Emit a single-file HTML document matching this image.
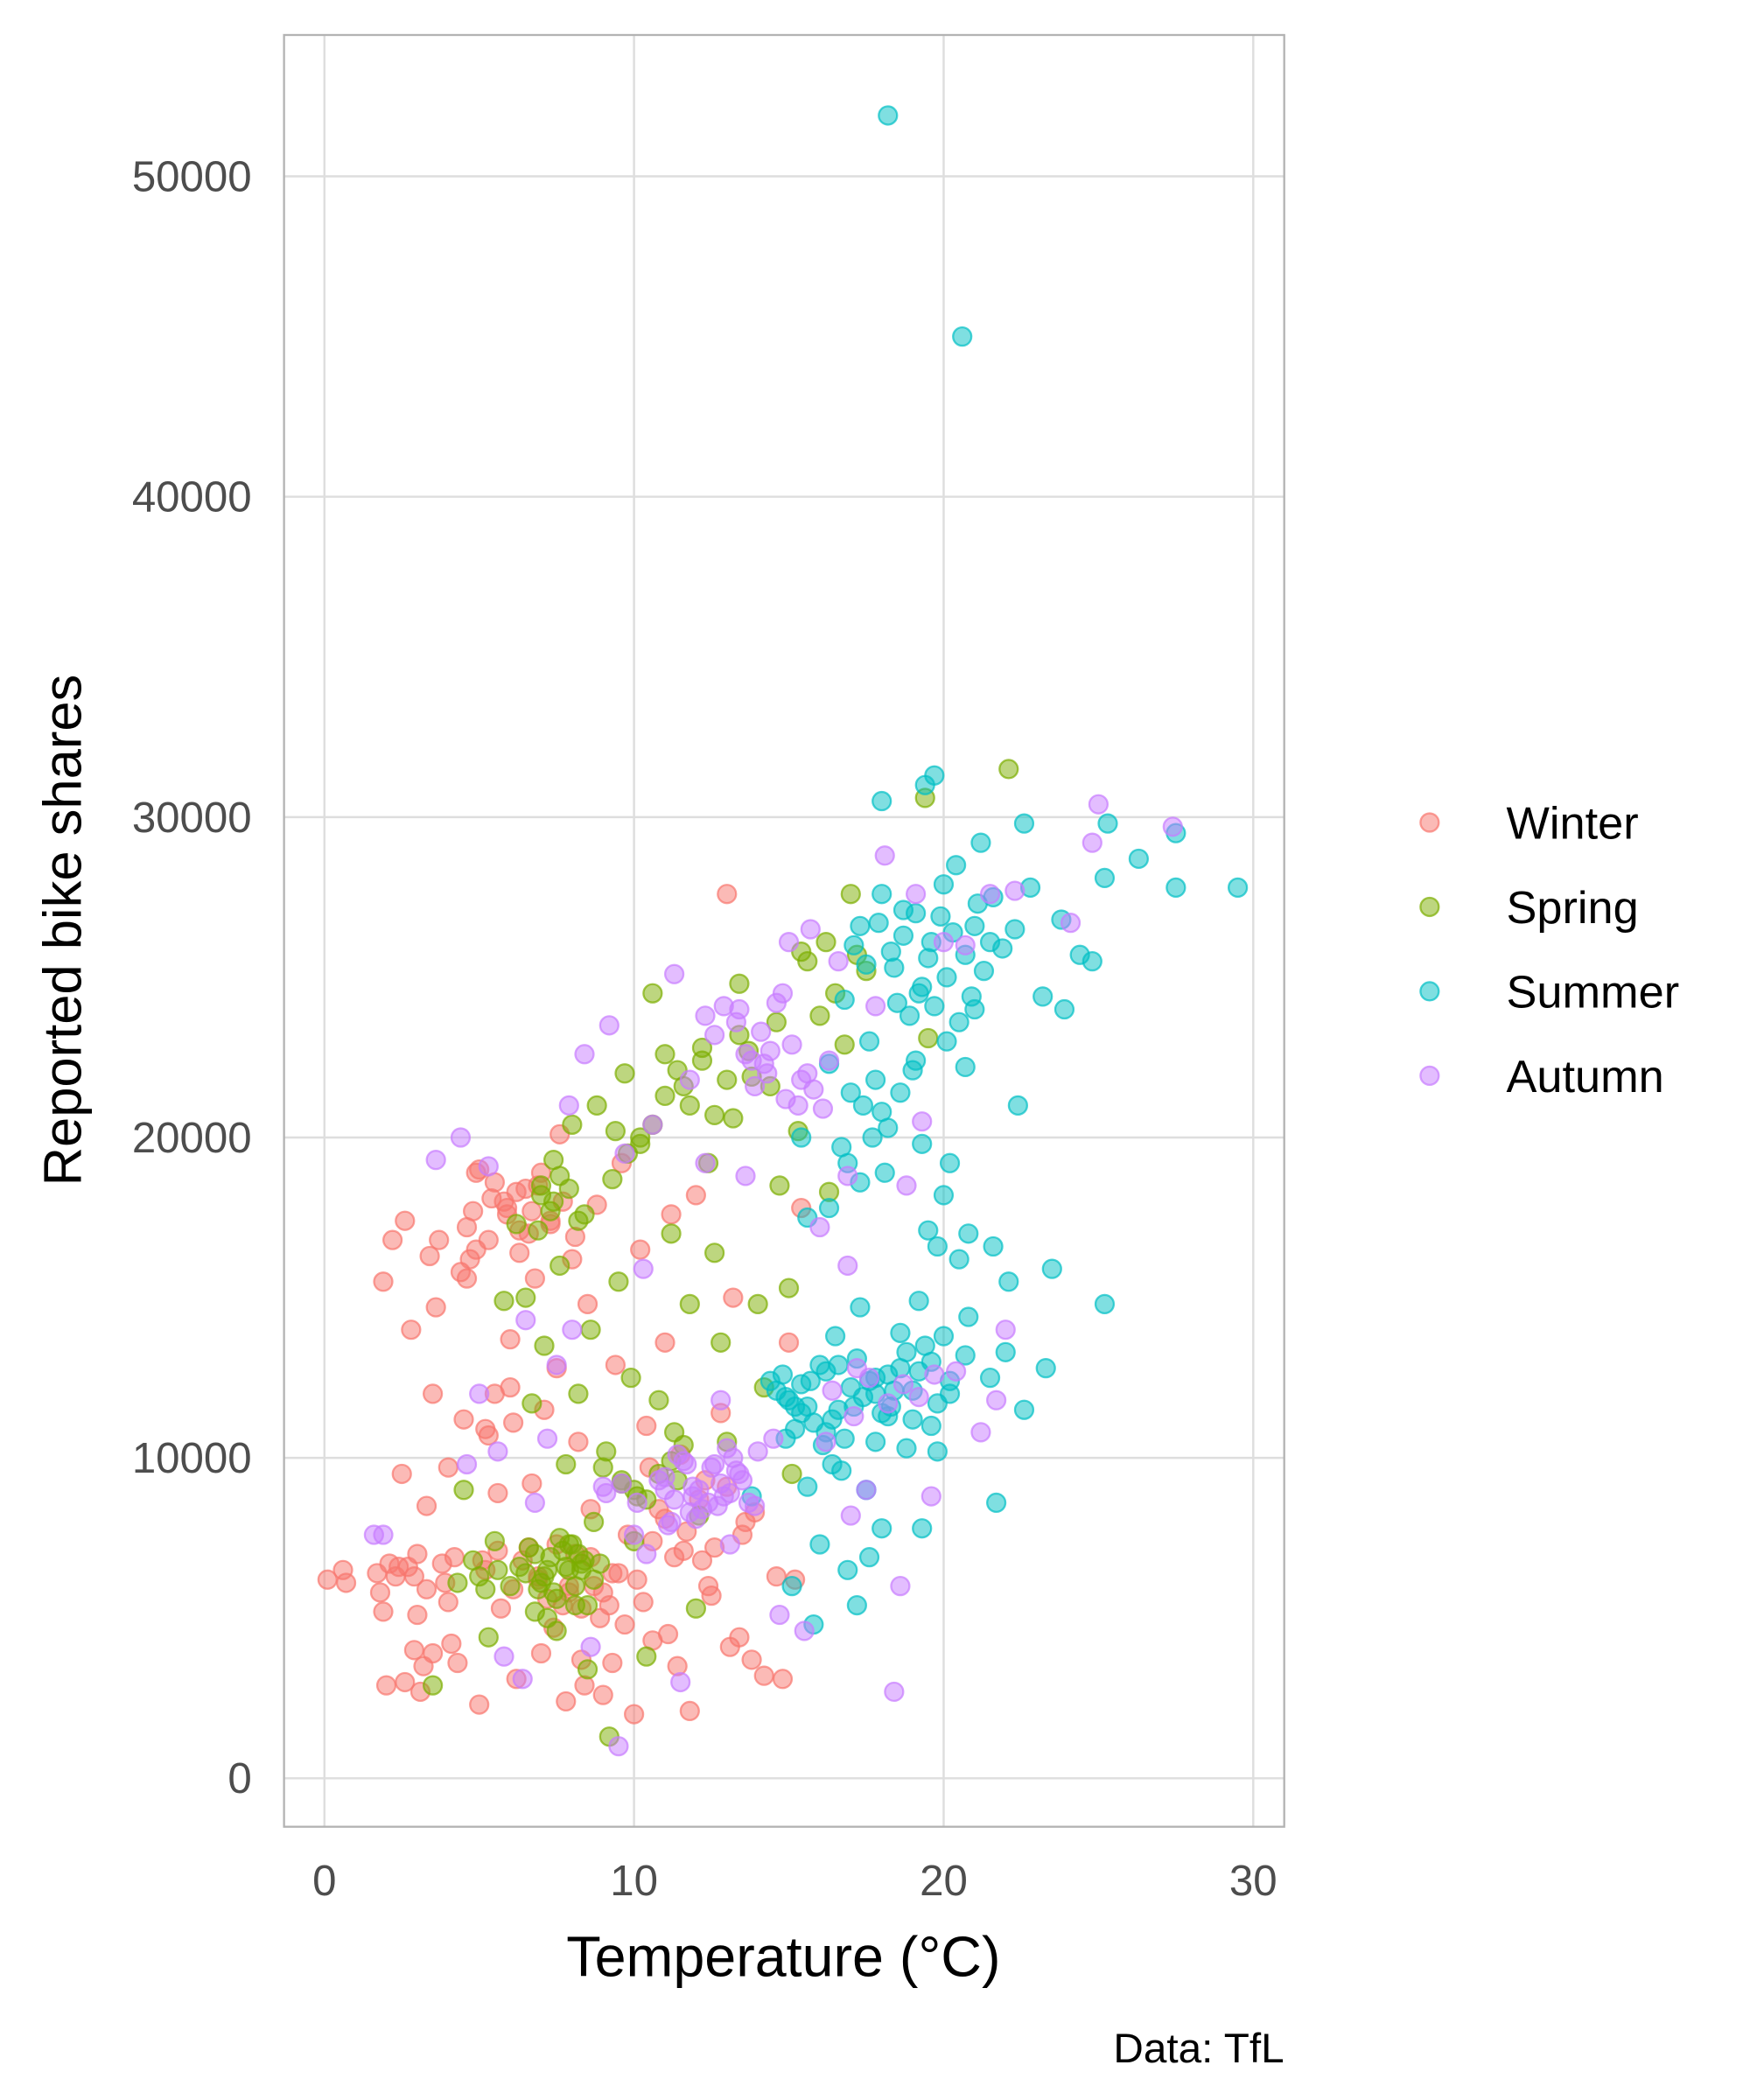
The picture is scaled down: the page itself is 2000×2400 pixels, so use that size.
<!DOCTYPE html>
<html><head><meta charset="utf-8"><style>
html,body{margin:0;padding:0;background:#fff;}
svg{display:block;}
text{font-family:"Liberation Sans",sans-serif;}
</style></head>
<body>
<svg id="chart" width="2000" height="2400" viewBox="0 0 1300 1560" xmlns="http://www.w3.org/2000/svg">
<rect x="0" y="0" width="1300" height="1560" fill="#fff"/>
<g id="grid"></g>
<g id="points"></g>
<rect x="211" y="26" width="743" height="1331" fill="none" stroke="#b3b3b3" stroke-width="1.5"/>
<g id="ticks"></g>
<text x="582" y="1468" text-anchor="middle" font-size="42" fill="#000">Temperature (°C)</text>
<text transform="translate(60,691) rotate(-90)" text-anchor="middle" font-size="40" fill="#000">Reported bike shares</text>
<text x="954" y="1532" text-anchor="end" font-size="31" fill="#000">Data: TfL</text>
<g id="legend"></g>
</svg>
<script>
const xTicks=[0,10,20,30];
const yTicks=[0,10000,20000,30000,40000,50000];
const seasons=["Winter","Spring","Summer","Autumn"];
const winterTemp=[0.1,0.6,0.7,1.7,1.8,1.9,2.0,2.1,2.3,2.5,2.8,2.6,2.2,1.9,3.0,3.2,3.1,2.9,3.3,3.5,3.6,3.4,3.7,4.0,4.2,4.3,4.5,4.6,4.8,4.9,5.0,5.2,5.3,5.5,5.7,5.8,6.0,6.1,6.2,6.3,6.5,6.6,6.8,7.0,7.1,7.3,7.5,7.6,7.8,7.9,8.0,8.2,8.3,8.5,8.7,8.8,9.0,9.2,9.4,9.6,9.8,10.0,10.2,10.4,10.6,10.8,11.0,11.2,11.4,11.6,11.8,12.0,12.3,12.5,12.8,13.0,13.2,13.4,13.6,13.8,14.2,14.6,14.8,15.0,15.2,15.4,5.1,4.0,6.9,7.7,8.1,2.7,3.9,5.6,9.5,10.5,11.5,12.2,3.0,6.7,8.6,
5.2,5.6,6.1,6.4,6.9,7.2,7.5,7.9,8.3,8.6,9.0,9.3,4.6,4.9,5.4,5.9,6.2,6.6,6.9,7.3,7.7,8.1,4.4,4.7,5.0,5.5,5.9,6.3,6.7,7.0,10.1,10.6,11.0,11.3,11.7,12.1,12.6,13.0,13.5,13.9,2.4,2.9,3.3,3.8,2.6,3.5,4.1,8.9,9.3,9.7,10.3,11.1,12.4,13.1,7.4,8.4,6.0,5.3];
const winterCount=[6200,6500,6100,6400,5800,5200,2900,6700,6300,9500,14000,17400,16800,15500,7000,3500,2700,4000,8500,12000,14700,16300,16800,9700,6900,3600,11200,15600,17700,18900,2300,10900,16800,12000,5300,18000,13700,11100,3100,17100,18400,7200,15600,3900,11500,17400,12800,20100,2400,5800,16200,10500,3700,14800,6000,17900,2600,5400,12900,19200,7600,2000,16500,11000,4300,8400,13600,17600,3500,7100,2100,18200,9300,5700,11400,27600,15000,4400,8000,3700,3200,6300,3100,13600,6200,17800,6800,5500,6300,5400,7000,6600,6100,8900,6400,9700,10100,6800,5100,9200,8400,
6500,7100,5900,6800,6200,5600,7300,6000,5300,6900,5800,6400,17200,16500,18100,17600,18300,17000,18500,17300,18000,16900,15800,16200,19000,18600,17800,16400,17700,18900,6200,7400,8100,6900,7700,8700,7200,9100,7600,8300,6600,6300,5900,6700,3000,3900,4200,5000,3600,4800,5500,4500,6000,4100,4700,2900,12200,10700];
const springTemp=[3.5,4.5,5.0,5.3,5.5,5.8,6.2,6.5,6.7,7.0,7.1,7.2,7.4,7.5,7.6,7.8,7.9,8.0,8.1,8.2,8.4,8.5,8.6,8.8,8.9,9.1,9.2,9.3,9.5,9.7,9.9,10.0,10.2,10.4,10.6,10.8,11.0,11.2,11.4,11.6,11.8,12.0,12.2,12.4,12.6,12.8,13.0,13.2,13.4,13.7,14.0,14.4,14.7,15.0,15.3,15.6,16.0,16.5,17.0,17.5,19.4,22.1,19.5,16.3,6.0,6.8,8.3,8.7,9.6,10.1,11.3,12.1,14.2,15.1,16.8,17.2,4.8,
6.3,6.6,6.9,7.1,7.3,7.5,7.7,7.9,8.1,8.3,8.5,8.7,6.8,7.2,7.6,8.0,8.4,6.5,7.0,7.4,7.8,8.2,7.0,7.3,7.6,7.9,8.2,6.9,7.4,10.2,10.6,11.0,11.4,11.8,12.2,12.6,13.0,13.4,9.8,9.4,9.0,9.6,10.0,10.4,10.8,11.2,11.6,5.2,5.6,4.3,13.8,14.6,15.4,16.2];
const springCount=[2900,9000,6300,4400,7400,14900,17300,15000,11700,18500,13500,6500,19300,4600,16000,9800,7300,20400,5400,12000,17600,3400,14000,21000,6700,10200,1300,18700,15500,22000,12500,7400,20000,3800,24500,11800,22600,17000,9300,21600,14800,5300,22400,19200,16400,13600,10500,20600,24800,22700,14800,21600,18500,15300,20200,25500,23800,24500,27600,25200,30600,31500,23100,18300,6000,7000,6500,8000,9200,8800,10800,8200,12200,9500,22900,25700,6800,
6600,7200,5900,6300,6900,5600,7100,6500,6000,6700,5400,6200,5200,5000,7500,7300,6800,6400,6100,5800,6600,7000,18200,17700,18800,18400,17400,17100,18000,19800,20400,21300,22100,21000,22800,20700,21800,23200,19500,20200,9700,9300,9000,8700,9500,9900,10400,5900,6500,6100,21900,23600,25800,26100];
const summerTemp=[18.2,20.6,18.0,19.4,19.7,21.2,22.6,25.3,26.3,27.5,29.5,27.5,25.2,24.4,24.8,23.8,23.2,23.9,22.4,22.8,21.6,21.0,20.4,20.0,19.6,19.2,18.7,18.4,18.0,17.3,16.8,16.3,17.0,16.7,16.3,15.4,15.6,17.6,18.0,19.1,20.1,20.7,21.0,19.3,20.0,20.2,19.5,19.8,20.5,20.8,21.6,22.1,23.5,25.2,23.3,22.6,21.7,21.5,20.8,20.2,19.6,19.0,18.6,18.2,17.8,17.3,17.1,16.6,16.2,15.7,15.2,14.8,14.6,15.6,16.0,16.9,17.2,17.6,15.1,15.8,18.0,19.3,19.2,20.7,22.0,16.5,17.8,18.8,19.8,14.9,13.8,15.4,16.4,17.5,18.3,
15.0,15.4,15.8,16.2,16.6,17.0,17.4,17.8,18.2,18.6,19.0,19.4,19.8,20.2,15.2,15.6,16.0,16.4,16.8,17.2,17.6,18.0,18.4,18.8,19.2,19.6,20.0,17.1,17.5,17.9,18.3,18.7,19.1,19.5,19.9,20.3,20.7,21.1,21.5,21.9,22.3,18.5,18.9,19.3,19.7,20.1,20.5,20.9,21.3,17.4,17.8,18.2,18.6,19.0,16.9,17.3,17.7,18.1,14.4,14.9,16.1,16.7];
const summerCount=[51900,45000,30500,31000,31300,29200,29800,29800,28700,29500,27800,27800,28100,25700,25500,26800,24400,24000,21000,27800,27500,26600,28500,27900,26100,24500,27100,25300,27600,26600,24300,22300,21400,19700,17800,20000,17500,23000,20800,22400,23000,22200,24000,19800,18200,19200,17100,16600,16200,17000,16600,15500,15900,14800,12800,11500,8600,12500,14400,12000,13000,11200,13900,12600,10500,14700,11600,12900,10800,12400,11600,12600,12100,9100,7300,6500,5400,6900,6000,4800,7800,7800,14900,13200,13300,13800,12000,10300,10200,10600,8800,11400,9800,9000,11600,
11800,12300,11100,12700,11500,12200,11900,12500,11300,12800,12100,13500,11700,12400,10900,11600,12900,11200,10600,13100,12400,11400,12100,13300,12700,11000,13800,26000,25400,26700,25800,26300,27000,25600,26900,26400,25700,27300,26100,25900,26500,24200,23800,24700,24100,25000,23600,24400,25200,21000,21800,20300,21400,22100,19200,18600,20000,18900,12400,11900,10400,9600];
const autumnTemp=[1.6,1.9,3.6,4.4,4.6,5.0,5.3,5.6,5.8,6.4,6.5,6.8,7.2,7.5,7.9,8.0,8.4,8.6,9.0,9.2,9.5,9.7,10.0,10.3,10.6,11.0,11.3,11.5,11.8,12.0,12.3,12.6,12.8,13.1,13.4,13.6,13.9,14.2,14.5,14.7,15.0,15.3,15.5,15.7,16.0,16.3,16.6,16.9,17.2,17.5,17.8,18.1,18.4,18.6,18.8,19.1,19.3,19.6,20.0,20.4,20.7,21.2,21.5,21.7,22.0,22.3,24.1,25.0,24.8,27.4,10.8,11.7,12.4,13.3,14.0,12.9,11.2,10.4,14.3,15.8,16.9,14.8,17.0,16.2,
11.0,11.3,11.6,11.9,12.2,12.5,12.8,13.1,13.4,13.7,11.4,11.8,12.1,12.6,13.0,13.5,11.1,11.9,12.7,13.2,12.3,12.9,13.6,14.1,14.6,15.1,15.4,13.9,14.4,14.9,15.6,16.1,13.3,13.8,16.4,17.1,17.6,18.2,18.7,19.2,19.7,9.1,9.6,10.1];
const autumnCount=[7600,7600,19300,20000,9800,12000,19100,10200,3800,3100,14300,8600,10600,12900,21000,14000,22600,4100,9100,23500,1000,19500,7600,15900,20400,9000,25100,3000,21800,8100,19200,23200,11800,7300,24000,18800,8500,22300,10600,5100,26100,21000,4600,26500,17200,22400,25500,16000,12800,9000,24100,28800,2700,6000,18500,27600,20500,8800,26100,12700,26000,10800,27600,11800,14000,27700,26700,30400,29200,29700,9300,9800,8600,9600,10200,8800,8000,7000,22000,21500,18800,24500,8200,10500,
9400,8700,9900,9100,8400,9700,9200,8900,9500,8600,10100,8300,9000,9800,10300,9300,7900,8800,8500,10000,23800,24100,22600,23300,24200,22900,21800,21600,22700,21200,22000,20900,23600,22400,12100,11300,12500,11700,12300,11900,12600,8900,9200,8600];
const colors={Winter:"#F8766D",Spring:"#7CAE00",Summer:"#00BFC4",Autumn:"#C77CFF"};
const NS="http://www.w3.org/2000/svg";
function xScale(t){return 241+(t-0)*23;}
function yScale(v){return 1321-v*0.0238;}
const grid=document.getElementById('grid'),ticks=document.getElementById('ticks');
yTicks.forEach(v=>{
  const l=document.createElementNS(NS,'line');
  l.setAttribute('x1',211);l.setAttribute('x2',954);l.setAttribute('y1',yScale(v));l.setAttribute('y2',yScale(v));
  l.setAttribute('stroke','#dedede');l.setAttribute('stroke-width','1.6');
  
  
  grid.appendChild(l);
  const t=document.createElementNS(NS,'text');
  t.setAttribute('x',187);t.setAttribute('y',yScale(v)+11);t.setAttribute('text-anchor','end');
  t.setAttribute('font-size','32');t.setAttribute('fill','#4d4d4d');t.textContent=v;
  
  
  ticks.appendChild(t);
});
xTicks.forEach(v=>{
  const l=document.createElementNS(NS,'line');
  l.setAttribute('y1',26);l.setAttribute('y2',1357);l.setAttribute('x1',xScale(v));l.setAttribute('x2',xScale(v));
  l.setAttribute('stroke','#dedede');l.setAttribute('stroke-width','1.6');
  
  
  grid.appendChild(l);
  const t=document.createElementNS(NS,'text');
  t.setAttribute('x',xScale(v));t.setAttribute('y',1408);t.setAttribute('text-anchor','middle');
  t.setAttribute('font-size','32');t.setAttribute('fill','#4d4d4d');t.textContent=v;
  
  
  ticks.appendChild(t);
});
const series={Winter:[winterTemp,winterCount],Spring:[springTemp,springCount],Summer:[summerTemp,summerCount],Autumn:[autumnTemp,autumnCount]};
const pts=document.getElementById('points');
seasons.forEach(s=>{
  const [tt,cc]=series[s];
  tt.forEach((t,i)=>{
    if(cc[i]===undefined) return;
    const c=document.createElementNS(NS,'circle');
    c.setAttribute('cx',xScale(t));c.setAttribute('cy',yScale(cc[i]));c.setAttribute('r',6.8);
    c.setAttribute('fill',colors[s]);c.setAttribute('fill-opacity','0.5');
    c.setAttribute('stroke',colors[s]);c.setAttribute('stroke-opacity','0.7');c.setAttribute('stroke-width','1.5');
    
    
    pts.appendChild(c);
  });
});
const leg=document.getElementById('legend');
seasons.forEach((s,i)=>{
  const y=611+i*62.7;
  const c=document.createElementNS(NS,'circle');
  c.setAttribute('cx',1062);c.setAttribute('cy',y);c.setAttribute('r',6.8);
  c.setAttribute('fill',colors[s]);c.setAttribute('fill-opacity','0.5');
  c.setAttribute('stroke',colors[s]);c.setAttribute('stroke-opacity','0.7');c.setAttribute('stroke-width','1.5');
  
  
  leg.appendChild(c);
  const t=document.createElementNS(NS,'text');
  t.setAttribute('x',1119);t.setAttribute('y',y+12);t.setAttribute('font-size','34');t.setAttribute('fill','#000');
  t.textContent=s;
  
  
  leg.appendChild(t);
});
</script>
</body></html>
